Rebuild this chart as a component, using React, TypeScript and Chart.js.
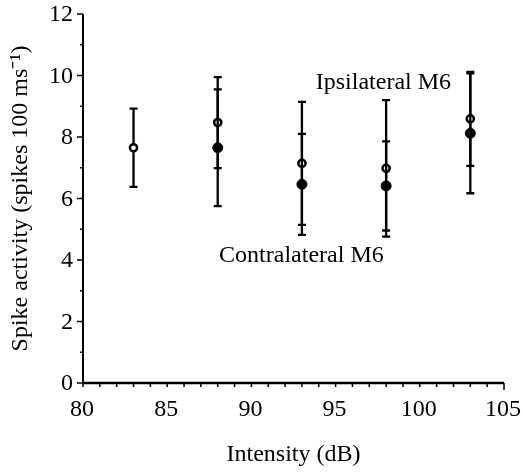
import React, { useEffect, useRef } from "react";
import { Chart, registerables } from "chart.js";

Chart.register(...registerables);

const ipsiIntensity = [83, 88, 93, 98, 103];
const ipsiMean = [7.65, 8.47, 7.14, 6.98, 8.59];
const ipsiErr = [1.27, 1.48, 2.0, 2.22, 1.53];

const contraIntensity = [88, 93, 98, 103];
const contraMean = [7.65, 6.46, 6.41, 8.12];
const contraErr = [1.9, 1.64, 1.45, 1.95];

const xTicks = [80, 85, 90, 95, 100, 105];
const yTicks = [0, 2, 4, 6, 8, 10, 12];

const labelTexts = ["Ipsilateral M6", "Contralateral M6"];
const labelX = [97.84, 92.97];
const labelY = [9.76, 4.13];

const FONT = "'Liberation Serif', 'Times New Roman', serif";
const FS = 24;

export default function App() {
  const ref = useRef<HTMLCanvasElement | null>(null);

  useEffect(() => {
    const canvas = ref.current;
    if (!canvas) return;

    const errors: number[][] = [ipsiErr, contraErr];

    const plugin = {
      id: "custom",
      beforeDatasetDraw(chart: any, args: any) {
        const ctx = chart.ctx;
        const xs = chart.scales.x;
        const ys = chart.scales.y;
        const ds = chart.data.datasets[args.index];
        const err = errors[args.index];
        ctx.save();
        ctx.strokeStyle = "#000";
        ctx.lineWidth = 2.3;
        ds.data.forEach((p: any, i: number) => {
          const px = xs.getPixelForValue(p.x);
          const top = ys.getPixelForValue(p.y + err[i]);
          const bot = ys.getPixelForValue(p.y - err[i]);
          ctx.beginPath();
          ctx.moveTo(px, top);
          ctx.lineTo(px, bot);
          ctx.moveTo(px - 4, top);
          ctx.lineTo(px + 4, top);
          ctx.moveTo(px - 4, bot);
          ctx.lineTo(px + 4, bot);
          ctx.stroke();
        });
        ctx.restore();
      },
      afterDraw(chart: any) {
        const ctx = chart.ctx;
        const xs = chart.scales.x;
        const ys = chart.scales.y;
        ctx.save();
        ctx.strokeStyle = "#000";
        const x0 = xs.getPixelForValue(80);
        const x1 = xs.getPixelForValue(105);
        const y0 = ys.getPixelForValue(0);
        const y1 = ys.getPixelForValue(12);
        // y axis
        ctx.lineWidth = 2;
        ctx.beginPath();
        ctx.moveTo(x0, y0);
        ctx.lineTo(x0, y1);
        ctx.stroke();
        for (let v = 0; v <= 12; v++) {
          const py = ys.getPixelForValue(v);
          const len = v % 2 === 0 ? 6 : 3;
          ctx.lineWidth = 1.5;
          ctx.beginPath();
          ctx.moveTo(x0 - len, py);
          ctx.lineTo(x0, py);
          ctx.stroke();
        }
        // x axis
        ctx.lineWidth = 2.5;
        ctx.beginPath();
        ctx.moveTo(x0 - 1, y0);
        ctx.lineTo(x1, y0);
        ctx.stroke();
        for (let v = 80; v <= 105; v++) {
          const px = xs.getPixelForValue(v);
          const len = v === 105 ? 7 : 4;
          ctx.lineWidth = 1.5;
          ctx.beginPath();
          ctx.moveTo(px, y0);
          ctx.lineTo(px, y0 + len);
          ctx.stroke();
        }
        ctx.fillStyle = "#000";
        ctx.font = `${FS}px ${FONT}`;
        // tick labels
        ctx.textAlign = "right";
        ctx.textBaseline = "middle";
        yTicks.forEach((v) => {
          ctx.fillText(String(v), x0 - 10, ys.getPixelForValue(v) + 1);
        });
        ctx.textAlign = "center";
        xTicks.forEach((v) => {
          ctx.fillText(String(v), xs.getPixelForValue(v) - 1, y0 + 27);
        });
        // annotations
        labelTexts.forEach((t, i) => {
          ctx.fillText(t, xs.getPixelForValue(labelX[i]), ys.getPixelForValue(labelY[i]));
        });
        ctx.restore();
      },
    };

    const chart = new Chart(canvas, {
      type: "scatter",
      data: {
        datasets: [
          {
            label: "Ipsilateral M6",
            data: ipsiIntensity.map((x, i) => ({ x, y: ipsiMean[i] })),
            pointRadius: 3.6,
            pointBorderWidth: 2.5,
            pointBackgroundColor: "#fff",
            pointBorderColor: "#000",
            order: 2,
          },
          {
            label: "Contralateral M6",
            data: contraIntensity.map((x, i) => ({ x, y: contraMean[i] })),
            pointRadius: 5,
            pointBorderWidth: 1,
            pointBackgroundColor: "#000",
            pointBorderColor: "#000",
            order: 1,
          },
        ],
      },
      options: {
        responsive: false,
        animation: false,
        layout: { padding: { top: 14, right: 20, left: 0, bottom: 0 } },
        plugins: { legend: { display: false }, tooltip: { enabled: false } },
        scales: {
          x: {
            type: "linear",
            min: 80,
            max: 105,
            border: { display: false },
            grid: { display: false, drawTicks: false },
            afterFit: (s: any) => {
              s.height = 91;
            },
            ticks: { display: false },
            title: {
              display: true,
              text: "Intensity (dB)",
              color: "#000",
              font: { family: FONT, size: FS },
              padding: { top: 0, bottom: 5 },
            },
          },
          y: {
            type: "linear",
            min: 0,
            max: 12,
            border: { display: false },
            grid: { display: false, drawTicks: false },
            afterFit: (s: any) => {
              s.width = 83;
            },
            ticks: { display: false },
            title: {
              display: true,
              text: "Spike activity (spikes 100 ms\u207B\u00B9)",
              color: "#000",
              font: { family: FONT, size: FS },
              padding: { top: 6, bottom: 0 },
            },
          },
        },
      },
      plugins: [plugin],
    });

    return () => chart.destroy();
  }, []);

  return (
    <div style={{ position: "fixed", left: 0, top: 0, width: 524, height: 474, background: "#fff" }}>
      <canvas ref={ref} width={524} height={474} />
    </div>
  );
}
